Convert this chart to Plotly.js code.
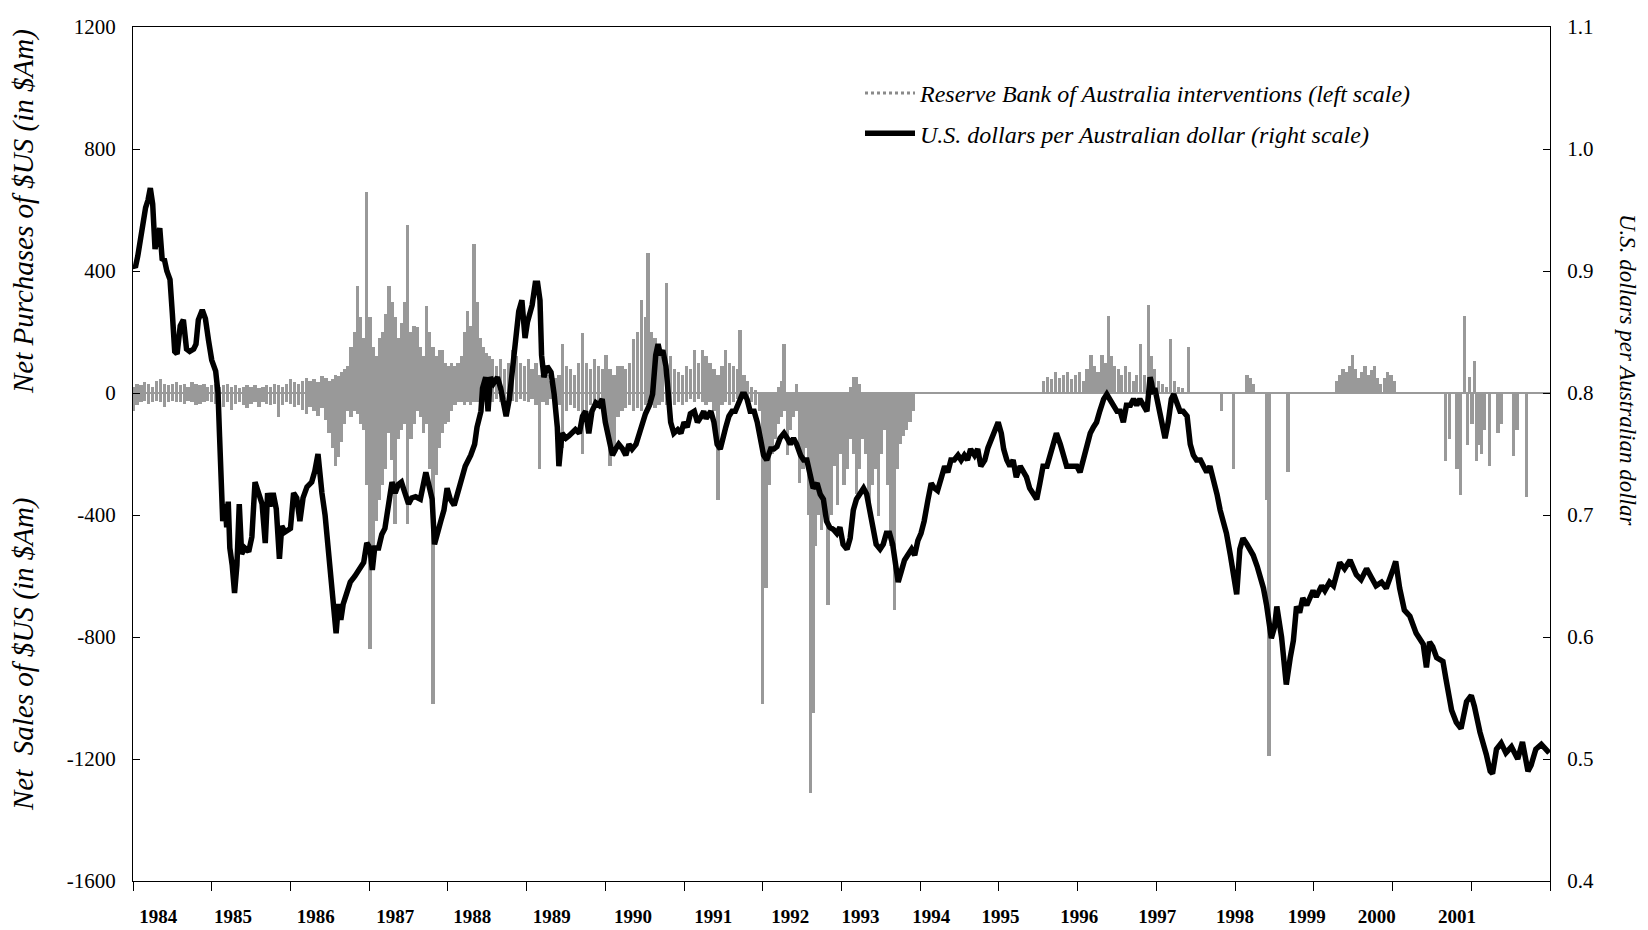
<!DOCTYPE html>
<html>
<head>
<meta charset="utf-8">
<script src="https://cdn.plot.ly/plotly-3.0.1.min.js"></script>
<style>
  html, body { margin: 0; padding: 0; background: #fff; }
  #chart { width: 1648px; height: 930px; }
</style>
</head>
<body>
<div id="chart"></div>
<script>
// ---------------- DATA ----------------
// Year labels on the time axis
const yearLabels = ['1984','1985','1986','1987','1988','1989','1990','1991','1992',
                    '1993','1994','1995','1996','1997','1998','1999','2000','2001'];

// Left-scale tick values and labels ($Am)
const leftTicks = [-1600,-1200,-800,-400,0,400,800,1200];
const leftTickText = ['-1600','-1200','-800','-400','0','400','800','1200'];

// Reserve Bank of Australia net purchases of $US (positive, $Am)
const purchaseDate = [
  1984.00,1984.05,1984.10,1984.15,1984.20,1984.25,1984.30,1984.35,1984.40,1984.45,
  1984.50,1984.55,1984.60,1984.65,1984.70,1984.75,1984.80,1984.85,1984.90,1984.95,
  1985.00,1985.05,1985.10,1985.15,1985.20,1985.25,1985.30,1985.35,1985.40,1985.45,
  1985.50,1985.55,1985.60,1985.65,1985.70,1985.75,1985.80,1985.85,1985.90,1985.95,
  1986.00,1986.05,1986.10,1986.15,1986.20,1986.25,1986.30,1986.35,1986.40,
  1986.45,1986.49,1986.53,1986.57,1986.61,1986.65,1986.69,1986.73,1986.77,1986.81,
  1986.85,1986.89,1986.93,1986.97,1987.01,1987.05,1987.09,1987.13,1987.17,1987.21,
  1987.25,1987.29,1987.33,1987.37,1987.41,1987.45,1987.49,1987.53,1987.57,1987.61,
  1987.65,1987.69,1987.73,1987.77,1987.81,1987.85,1987.89,1987.93,1987.97,1988.01,
  1988.05,1988.09,1988.13,1988.17,1988.21,1988.25,1988.29,1988.33,1988.37,1988.41,
  1988.45,1988.49,1988.53,1988.57,
  1988.62,1988.67,1988.72,1988.77,1988.82,1988.87,1988.92,1988.97,1989.02,1989.07,
  1989.12,1989.16,1989.21,1989.26,1989.31,1989.36,1989.41,1989.46,1989.51,1989.56,
  1989.61,1989.66,1989.71,1989.76,1989.81,1989.86,1989.91,1989.96,1990.01,1990.06,
  1990.11,1990.16,1990.21,1990.26,1990.31,1990.36,1990.41,1990.46,1990.51,1990.54,
  1990.58,1990.63,1990.68,1990.73,1990.78,1990.83,1990.88,1990.93,1990.98,1991.03,
  1991.08,1991.13,1991.18,1991.23,1991.28,1991.33,1991.38,1991.43,1991.48,1991.53,
  1991.58,1991.63,1991.68,1991.71,1991.76,1991.81,1991.86,1991.91,
  1992.20,1992.24,1992.27,1992.43,1993.11,1993.15,1993.19,1993.23,
  1995.57,1995.62,1995.67,1995.72,1995.77,1995.82,1995.87,1995.92,1995.97,1996.02,
  1996.07,1996.12,1996.17,1996.21,1996.26,1996.31,1996.35,1996.39,1996.43,1996.47,
  1996.52,1996.56,1996.61,1996.66,1996.71,1996.75,1996.80,1996.85,1996.90,1996.94,
  1996.98,1997.03,1997.08,1997.13,1997.18,1997.23,1997.28,1997.33,1997.41,
  1998.15,1998.19,1998.23,
  1999.29,1999.33,1999.37,1999.41,1999.45,1999.49,1999.53,1999.57,1999.61,1999.65,
  1999.69,1999.73,1999.77,1999.81,1999.85,1999.90,1999.94,1999.98,2000.02,
  2000.91,2000.98,2001.04
];
const purchase = [
  20,30,25,35,30,20,40,45,30,25,
  30,35,25,30,20,35,30,25,30,20,
  25,30,20,25,30,20,25,15,20,25,
  20,25,15,20,25,20,30,25,20,30,
  45,35,30,40,50,40,45,35,55,
  50,40,45,60,55,70,80,90,150,200,
  350,250,180,660,250,150,120,180,200,260,
  350,300,250,180,230,300,550,200,220,215,
  150,120,285,200,150,120,140,140,100,90,
  100,90,100,120,200,270,220,490,300,180,
  150,130,120,110,
  90,110,80,100,140,120,100,90,110,80,
  100,60,70,60,40,50,60,160,90,80,
  60,100,196,100,80,110,90,80,124,80,
  60,87,90,80,100,178,200,305,250,460,
  200,180,150,120,360,120,80,70,60,87,
  80,142,100,142,120,100,80,60,87,142,
  100,90,80,205,60,40,20,10,
  20,40,160,30,20,51,51,30,
  40,51,45,69,50,60,69,45,60,69,
  40,80,124,90,70,124,100,251,120,87,
  80,60,87,69,40,60,160,60,287,120,
  80,40,30,20,178,40,20,15,151,
  60,50,30,
  40,60,80,70,90,125,80,50,70,88,
  60,75,88,50,30,50,70,60,40,
  253,51,106
];

// Reserve Bank of Australia net sales of $US (negative, $Am)
const saleDate = [
  1984.00,1984.05,1984.10,1984.15,1984.20,1984.25,1984.30,1984.35,1984.40,1984.45,
  1984.50,1984.55,1984.60,1984.65,1984.70,1984.75,1984.80,1984.85,1984.90,1984.95,
  1985.00,1985.05,1985.10,1985.15,1985.20,1985.25,1985.30,1985.35,1985.40,1985.45,
  1985.50,1985.55,1985.60,1985.65,1985.70,1985.75,1985.80,1985.85,1985.90,1985.95,
  1986.00,1986.05,1986.10,1986.15,1986.20,1986.25,1986.30,1986.35,1986.40,
  1986.45,1986.49,1986.53,1986.57,1986.61,1986.65,1986.69,1986.73,1986.77,1986.81,
  1986.85,1986.89,1986.93,1986.97,1987.01,1987.05,1987.09,1987.13,1987.17,1987.21,
  1987.25,1987.29,1987.33,1987.37,1987.41,1987.45,1987.49,1987.53,1987.57,1987.61,
  1987.65,1987.69,1987.73,1987.77,1987.81,1987.85,1987.89,1987.93,1987.97,1988.01,
  1988.05,1988.09,1988.13,1988.17,1988.21,1988.25,1988.29,1988.33,1988.37,1988.41,
  1988.45,1988.49,1988.53,1988.57,
  1988.62,1988.67,1988.72,1988.77,1988.82,1988.87,1988.92,1988.97,1989.02,1989.07,
  1989.12,1989.16,1989.21,1989.26,1989.31,1989.36,1989.41,1989.46,1989.51,1989.56,
  1989.61,1989.66,1989.71,1989.76,1989.81,1989.86,1989.91,1989.96,1990.01,1990.06,
  1990.11,1990.16,1990.21,1990.26,1990.31,1990.36,1990.41,1990.46,1990.51,1990.54,
  1990.58,1990.63,1990.68,1990.73,1990.78,1990.83,1990.88,1990.93,1990.98,1991.03,
  1991.08,1991.13,1991.18,1991.23,1991.28,1991.33,1991.38,1991.43,1991.48,1991.53,
  1991.58,1991.63,1991.68,1991.71,1991.76,1991.81,1991.86,1991.91,1991.96,
  1992.00,1992.04,1992.08,1992.12,1992.16,1992.20,1992.24,1992.27,1992.31,1992.35,
  1992.39,1992.43,1992.47,1992.51,1992.55,1992.58,1992.61,1992.64,1992.67,1992.71,
  1992.75,1992.79,1992.83,1992.87,1992.91,1992.95,1992.99,1993.03,1993.07,1993.11,
  1993.15,1993.19,1993.23,1993.27,1993.31,1993.35,1993.39,1993.43,1993.47,1993.51,
  1993.55,1993.59,1993.63,1993.67,1993.71,1993.75,1993.79,1993.83,1993.87,1993.91,
  1997.83,1997.98,1998.40,1998.43,1998.67,
  2000.67,2000.72,2000.82,2000.86,2000.95,2001.01,2001.07,2001.10,2001.13,2001.16,
  2001.23,2001.34,2001.38,2001.54,2001.58,2001.70
];
const sale = [
  -60,-40,-30,-25,-35,-30,-25,-30,-45,-30,
  -25,-30,-30,-35,-25,-30,-40,-35,-30,-25,
  -30,-35,-70,-45,-30,-55,-35,-30,-40,-50,
  -35,-30,-45,-30,-35,-40,-35,-80,-40,-30,
  -35,-45,-40,-55,-70,-45,-60,-75,-50,
  -90,-130,-180,-240,-210,-160,-100,-60,-80,-60,
  -70,-100,-120,-300,-840,-500,-420,-350,-300,-250,
  -130,-220,-430,-150,-120,-100,-430,-150,-100,-60,
  -80,-130,-100,-250,-1020,-270,-180,-130,-100,-95,
  -60,-40,-30,-30,-40,-30,-40,-30,-30,-40,
  -30,-20,-30,-30,
  -20,-30,-20,-30,-25,-30,-20,-25,-30,-20,
  -40,-250,-30,-40,-20,-30,-40,-180,-60,-40,
  -50,-60,-200,-60,-40,-50,-40,-60,-120,-240,
  -200,-80,-60,-50,-40,-60,-50,-60,-40,-30,
  -40,-50,-40,-30,-40,-50,-40,-30,-40,-30,
  -20,-30,-20,-30,-40,-30,-60,-350,-40,-30,
  -40,-30,-20,-30,-20,-20,-30,-40,-60,
  -1020,-640,-300,-200,-150,-100,-80,-60,-204,-120,
  -80,-60,-295,-250,-180,-400,-1310,-1050,-500,-400,
  -450,-367,-695,-400,-240,-367,-200,-300,-250,-150,
  -200,-330,-250,-150,-200,-385,-300,-250,-404,-200,
  -120,-300,-500,-713,-250,-167,-140,-120,-95,-60,
  -58,-249,-350,-1190,-260,
  -224,-150,-250,-334,-169,-100,-224,-170,-200,-120,
  -240,-132,-100,-205,-120,-340
];

// U.S. dollars per Australian dollar (right scale)
const rateDate = [
  1984.00,1984.03,1984.06,1984.09,1984.12,1984.16,1984.19,1984.22,1984.25,1984.28,
  1984.31,1984.34,1984.37,1984.40,1984.43,1984.47,1984.50,1984.53,1984.56,1984.60,
  1984.64,1984.68,1984.72,1984.77,1984.80,1984.83,1984.88,1984.92,1984.96,1985.00,
  1985.05,1985.08,1985.10,1985.12,1985.14,1985.17,1985.19,1985.21,1985.23,1985.26,
  1985.29,1985.32,1985.35,1985.38,1985.42,1985.47,1985.51,1985.55,1985.59,1985.64,
  1985.68,1985.71,1985.74,1985.78,1985.82,1985.86,1985.89,1985.93,1986.00,1986.04,
  1986.08,1986.12,1986.16,1986.21,1986.27,1986.31,1986.35,1986.37,1986.40,1986.44,
  1986.48,1986.52,1986.55,1986.58,1986.61,1986.64,1986.67,1986.71,1986.76,1986.82,
  1986.88,1986.93,1986.97,1987.01,1987.04,1987.07,1987.12,1987.16,1987.20,1987.26,
  1987.29,1987.33,1987.37,1987.41,1987.45,1987.50,1987.54,1987.59,1987.65,1987.72,
  1987.76,1987.80,1987.83,1987.86,1987.91,1987.95,1987.99,1988.03,1988.08,1988.12,
  1988.16,1988.22,1988.29,1988.34,1988.37,1988.42,1988.44,1988.48,1988.51,1988.54,
  1988.58,1988.63,1988.67,1988.71,1988.74,1988.78,1988.82,1988.86,1988.90,1988.94,
  1988.98,1989.01,1989.04,1989.07,1989.11,1989.14,1989.17,1989.19,1989.22,1989.26,
  1989.31,1989.35,1989.39,1989.41,1989.45,1989.50,1989.54,1989.58,1989.62,1989.67,
  1989.71,1989.75,1989.79,1989.83,1989.88,1989.92,1989.96,1990.00,1990.05,1990.09,
  1990.13,1990.17,1990.22,1990.26,1990.30,1990.34,1990.39,1990.43,1990.47,1990.51,
  1990.56,1990.60,1990.64,1990.67,1990.70,1990.73,1990.77,1990.80,1990.83,1990.87,
  1990.92,1990.96,1991.00,1991.04,1991.08,1991.13,1991.17,1991.21,1991.25,1991.28,
  1991.34,1991.38,1991.42,1991.46,1991.49,1991.53,1991.57,1991.61,1991.65,1991.70,
  1991.74,1991.77,1991.80,1991.84,1991.89,1991.93,1991.97,1992.01,1992.05,1992.10,
  1992.14,1992.18,1992.22,1992.27,1992.31,1992.35,1992.39,1992.43,1992.48,1992.52,
  1992.56,1992.60,1992.64,1992.69,1992.73,1992.77,1992.81,1992.85,1992.90,1992.94,
  1992.98,1993.02,1993.07,1993.11,1993.15,1993.19,1993.23,1993.28,1993.32,1993.36,
  1993.40,1993.44,1993.49,1993.53,1993.57,1993.61,1993.65,1993.70,1993.72,1993.76,
  1993.80,1993.84,1993.89,1993.93,1993.97,1994.01,1994.05,1994.10,1994.14,1994.18,
  1994.22,1994.27,1994.31,1994.35,1994.39,1994.43,1994.48,1994.52,1994.56,1994.60,
  1994.64,1994.69,1994.73,1994.77,1994.82,1994.86,1994.91,1994.95,1994.99,1995.03,
  1995.06,1995.10,1995.14,1995.18,1995.22,1995.27,1995.31,1995.35,1995.39,1995.44,
  1995.48,1995.52,1995.56,1995.61,1995.65,1995.69,1995.73,1995.78,1995.82,1995.86,
  1995.90,1995.94,1995.99,1996.03,1996.07,1996.11,1996.16,1996.20,1996.24,1996.28,
  1996.33,1996.37,1996.41,1996.45,1996.50,1996.54,1996.58,1996.62,1996.67,1996.71,
  1996.75,1996.79,1996.83,1996.88,1996.90,1996.92,1996.94,1996.96,1996.98,1997.03,
  1997.07,1997.11,1997.15,1997.19,1997.22,1997.26,1997.30,1997.34,1997.39,1997.43,
  1997.47,1997.51,1997.56,1997.60,1997.64,1997.68,1997.72,1997.77,1997.81,1997.85,
  1997.89,1997.94,1997.98,1998.02,1998.06,1998.10,1998.15,1998.19,1998.23,1998.28,
  1998.32,1998.36,1998.40,1998.44,1998.46,1998.50,1998.53,1998.59,1998.65,1998.70,
  1998.74,1998.78,1998.82,1998.86,1998.91,1998.99,1999.03,1999.10,1999.14,1999.20,
  1999.25,1999.33,1999.39,1999.46,1999.54,1999.60,1999.67,1999.73,1999.79,1999.86,
  1999.92,2000.01,2000.04,2000.09,2000.15,2000.22,2000.30,2000.39,2000.43,2000.47,
  2000.51,2000.56,2000.64,2000.68,2000.75,2000.81,2000.87,2000.94,2001.00,2001.04,
  2001.11,2001.19,2001.24,2001.27,2001.32,2001.38,2001.44,2001.51,2001.59,2001.65,
  2001.68,2001.72,2001.76,2001.82,2001.89,2001.95,2001.99
];
const rate = [
  0.905,0.903,0.912,0.925,0.940,0.952,0.958,0.968,0.955,0.918,
  0.928,0.935,0.910,0.909,0.900,0.893,0.865,0.834,0.832,0.855,
  0.860,0.836,0.834,0.836,0.840,0.860,0.868,0.861,0.843,0.827,
  0.818,0.800,0.764,0.732,0.695,0.709,0.690,0.711,0.673,0.659,
  0.636,0.659,0.709,0.668,0.673,0.670,0.682,0.727,0.718,0.709,
  0.677,0.718,0.707,0.718,0.705,0.664,0.691,0.686,0.689,0.718,
  0.714,0.695,0.714,0.723,0.727,0.736,0.750,0.732,0.718,0.700,
  0.673,0.641,0.627,0.603,0.627,0.614,0.627,0.636,0.645,0.650,
  0.655,0.661,0.677,0.673,0.655,0.673,0.673,0.684,0.689,0.714,
  0.727,0.718,0.725,0.727,0.718,0.709,0.714,0.715,0.713,0.735,
  0.724,0.713,0.676,0.685,0.695,0.704,0.722,0.713,0.708,0.717,
  0.726,0.740,0.749,0.758,0.772,0.785,0.804,0.813,0.785,0.813,
  0.808,0.813,0.804,0.790,0.781,0.795,0.822,0.845,0.867,0.876,
  0.845,0.858,0.867,0.872,0.890,0.890,0.876,0.831,0.813,0.822,
  0.817,0.799,0.772,0.740,0.767,0.763,0.765,0.767,0.770,0.767,
  0.781,0.785,0.767,0.785,0.792,0.790,0.795,0.776,0.758,0.749,
  0.754,0.758,0.754,0.749,0.758,0.754,0.758,0.767,0.776,0.783,
  0.790,0.799,0.831,0.840,0.831,0.835,0.822,0.790,0.776,0.767,
  0.770,0.767,0.776,0.772,0.783,0.785,0.776,0.780,0.785,0.779,
  0.785,0.776,0.758,0.754,0.763,0.772,0.781,0.785,0.785,0.792,
  0.799,0.799,0.795,0.785,0.785,0.776,0.763,0.749,0.745,0.754,
  0.754,0.756,0.763,0.767,0.763,0.758,0.763,0.758,0.749,0.745,
  0.745,0.731,0.722,0.726,0.717,0.713,0.695,0.690,0.688,0.685,
  0.690,0.676,0.672,0.681,0.704,0.713,0.717,0.722,0.717,0.704,
  0.690,0.676,0.672,0.676,0.685,0.685,0.676,0.649,0.645,0.654,
  0.663,0.667,0.672,0.667,0.679,0.685,0.695,0.713,0.726,0.722,
  0.720,0.731,0.740,0.735,0.745,0.745,0.749,0.745,0.749,0.745,
  0.754,0.749,0.754,0.740,0.745,0.755,0.763,0.772,0.776,0.767,
  0.754,0.745,0.740,0.745,0.731,0.740,0.735,0.731,0.722,0.717,
  0.713,0.726,0.740,0.740,0.749,0.758,0.767,0.758,0.749,0.740,
  0.740,0.740,0.740,0.735,0.745,0.758,0.767,0.772,0.776,0.785,
  0.795,0.799,0.795,0.790,0.785,0.785,0.776,0.790,0.790,0.795,
  0.790,0.795,0.790,0.785,0.799,0.813,0.808,0.799,0.804,0.790,
  0.776,0.763,0.776,0.795,0.799,0.790,0.785,0.785,0.781,0.758,
  0.749,0.745,0.745,0.740,0.735,0.740,0.731,0.717,0.704,0.695,
  0.685,0.667,0.649,0.635,0.672,0.681,0.676,0.672,0.667,0.658,
  0.649,0.640,0.626,0.610,0.599,0.608,0.625,0.600,0.561,0.583,
  0.597,0.625,0.620,0.632,0.626,0.638,0.633,0.642,0.638,0.645,
  0.642,0.661,0.656,0.663,0.651,0.647,0.656,0.649,0.642,0.645,
  0.640,0.656,0.662,0.640,0.622,0.617,0.603,0.594,0.575,0.596,
  0.592,0.583,0.580,0.565,0.540,0.530,0.525,0.547,0.552,0.543,
  0.522,0.504,0.490,0.488,0.508,0.513,0.505,0.510,0.500,0.514,
  0.505,0.490,0.495,0.508,0.512,0.507,0.505
];

// ---------------- CHART ----------------
const W = 1648, H = 930;
const M = {l: 133, r: 98, t: 27, b: 49};
const plotW = W - M.l - M.r, plotH = H - M.t - M.b;
const px2paperX = p => (p - M.l) / plotW;
const px2paperY = p => (H - M.b - p) / plotH;

// label centres (decimal years) as placed in the original figure
const labelPos = [1984.32,1985.27,1986.32,1987.33,1988.31,1989.32,1990.35,1991.37,1992.35,
                  1993.24,1994.14,1995.02,1996.02,1997.01,1998.00,1998.91,1999.80,2000.82];

const serif = 'Liberation Serif, Times New Roman, serif';

const traces = [
  {
    type: 'bar',
    x: purchaseDate.concat(saleDate),
    y: purchase.concat(sale),
    width: 0.042,
    marker: {color: '#999999', line: {width: 0}},
    showlegend: false,
    hoverinfo: 'skip',
    xaxis: 'x', yaxis: 'y'
  },
  {
    type: 'scatter', mode: 'lines',
    x: [null], y: [null],
    name: 'Reserve Bank of Australia interventions (left scale)',
    line: {color: '#8a8a8a', width: 3, dash: 'dot'},
    legendgroup: 'a', showlegend: true
  },
  {
    type: 'scatter', mode: 'lines',
    x: rateDate, y: rate,
    name: 'U.S. dollars per Australian dollar (right scale)',
    line: {color: '#000', width: 5.5},
    legendgroup: 'b',
    xaxis: 'x', yaxis: 'y2'
  }
];

const layout = {
  width: W, height: H,
  margin: M,
  paper_bgcolor: '#fff', plot_bgcolor: '#fff',
  barmode: 'overlay',
  bargap: 0,
  font: {family: serif, color: '#000'},
  xaxis: {
    range: [1984, 2002],
    tickmode: 'array', tickvals: labelPos, ticktext: yearLabels,
    ticks: '', ticklabelstandoff: 18,
    showline: true, mirror: true, linecolor: '#000', linewidth: 1,
    showgrid: false, zeroline: false,
    tickfont: {family: serif, size: 19, color: '#000', weight: 'bold'},
    minor: {tickmode: 'linear', tick0: 1984, dtick: 1, ticks: 'outside', ticklen: 9,
            tickcolor: '#000', tickwidth: 1, showgrid: false}
  },
  yaxis: {
    range: [-1600, 1200], tickmode: 'array', tickvals: leftTicks, ticktext: leftTickText,
    ticks: 'inside', ticklen: 7, tickcolor: '#000',
    showline: true, linecolor: '#000', linewidth: 1,
    showgrid: false, zeroline: true, zerolinecolor: '#9a9a9a', zerolinewidth: 2,
    tickfont: {family: serif, size: 21, color: '#000'},
    ticklabelstandoff: 12
  },
  yaxis2: {
    overlaying: 'y', side: 'right',
    range: [0.4, 1.1], tickmode: 'linear', tick0: 0.4, dtick: 0.1, tickformat: '.1f',
    ticks: 'inside', ticklen: 7, tickcolor: '#000',
    showline: true, linecolor: '#000', linewidth: 1,
    showgrid: false, zeroline: false,
    tickfont: {family: serif, size: 21, color: '#000'},
    ticklabelstandoff: 12
  },
  legend: {
    x: px2paperX(860), y: px2paperY(71), xanchor: 'left', yanchor: 'top',
    bgcolor: 'rgba(0,0,0,0)', borderwidth: 0,
    traceorder: 'grouped', tracegroupgap: 6, itemwidth: 50,
    font: {family: serif, size: 24, color: '#000', style: 'italic'}
  },
  annotations: [
    {text: 'Net Purchases of $US (in $Am)', xref: 'paper', yref: 'paper',
     x: px2paperX(23), y: px2paperY(212), textangle: -90, showarrow: false,
     xanchor: 'center', yanchor: 'middle',
     font: {family: serif, size: 29, style: 'italic', color: '#000'}},
    {text: 'Net  Sales of $US (in $Am)', xref: 'paper', yref: 'paper',
     x: px2paperX(23), y: px2paperY(654), textangle: -90, showarrow: false,
     xanchor: 'center', yanchor: 'middle',
     font: {family: serif, size: 29, style: 'italic', color: '#000'}},
    {text: 'U.S. dollars per Australian dollar', xref: 'paper', yref: 'paper',
     x: px2paperX(1628), y: px2paperY(370), textangle: 90, showarrow: false,
     xanchor: 'center', yanchor: 'middle',
     font: {family: serif, size: 23, style: 'italic', color: '#000'}}
  ]
};

Plotly.newPlot('chart', traces, layout, {displayModeBar: false, staticPlot: true});
</script>
</body>
</html>
